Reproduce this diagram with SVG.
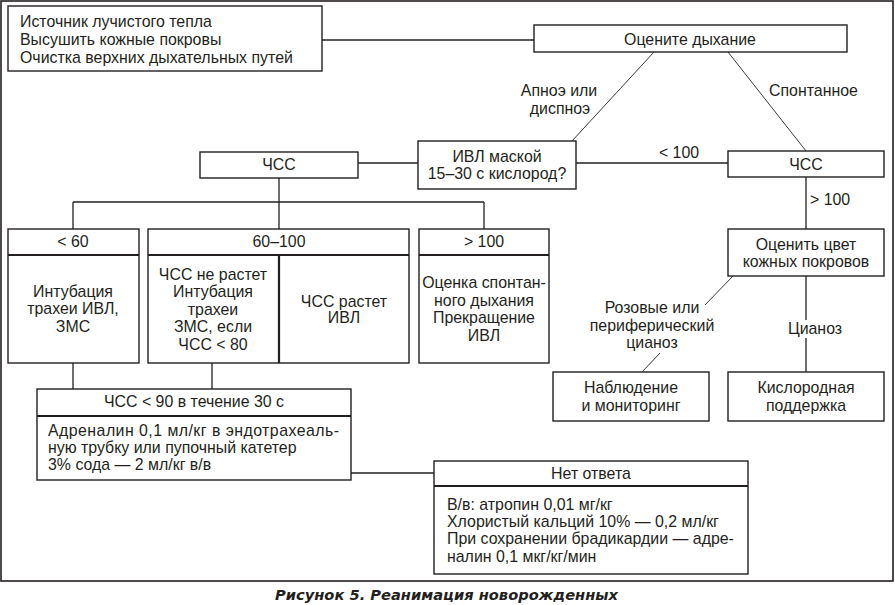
<svg xmlns="http://www.w3.org/2000/svg" width="895" height="605" viewBox="0 0 895 605">
<style>
text{font-family:"Liberation Sans",Arial,sans-serif;font-size:15.9px;fill:#231f20}
.c{text-anchor:middle}
.box{fill:#fff;stroke:#231f20;stroke-width:1.4}
.div{stroke:#231f20;stroke-width:2.2;fill:none}
.ln{stroke:#231f20;stroke-width:1.3;fill:none}
.dg{stroke:#3a3a3a;stroke-width:1;fill:none}
.cap{font-family:"DejaVu Sans","Liberation Sans",sans-serif;font-weight:bold;font-style:italic;font-size:14px}
</style>
<rect x="1" y="1" width="892" height="580" fill="#fff" stroke="#231f20" stroke-width="1.6"/>

<g id="connectors">
<line class="ln" x1="322" y1="40" x2="534" y2="40"/>
<line class="dg" x1="654" y1="52" x2="572" y2="141"/>
<line class="dg" x1="728" y1="52" x2="806" y2="151"/>
<line class="ln" x1="576" y1="163" x2="728" y2="163"/>
<line class="ln" x1="358" y1="163" x2="418" y2="163"/>
<line class="ln" x1="806" y1="177" x2="806" y2="229"/>
<line class="dg" x1="733" y1="276" x2="705" y2="305"/>
<line class="dg" x1="660" y1="353" x2="642" y2="372"/>
<line class="ln" x1="806" y1="276" x2="806" y2="320"/>
<line class="ln" x1="806" y1="338" x2="806" y2="372"/>
<line class="ln" x1="279" y1="178" x2="279" y2="229"/>
<line class="ln" x1="73" y1="202" x2="484" y2="202"/>
<line class="ln" x1="73" y1="202" x2="73" y2="229"/>
<line class="ln" x1="484" y1="202" x2="484" y2="229"/>
<line class="ln" x1="73" y1="363" x2="73" y2="389"/>
<line class="ln" x1="212" y1="363" x2="212" y2="389"/>
<line class="ln" x1="351" y1="473" x2="434" y2="473"/>
<text class="c" x="559" y="96">Апноэ или</text>
<text class="c" x="560" y="114">диспноэ</text>
<text x="769" y="96">Спонтанное</text>
<text class="c" x="679" y="158">&lt; 100</text>
<text x="810" y="205">&gt; 100</text>
<text class="c" x="652" y="313">Розовые или</text>
<text class="c" x="652" y="331">периферический</text>
<text class="c" x="652" y="348">цианоз</text>
<text class="c" x="815" y="334">Цианоз</text>
</g>

<g id="prep">
<rect class="box" x="8" y="6" width="314" height="65"/>
<text x="20" y="27">Источник лучистого тепла</text>
<text x="20" y="45">Высушить кожные покровы</text>
<text x="20" y="63">Очистка верхних дыхательных путей</text>
</g>

<g id="assess-breathing">
<rect class="box" x="534" y="25" width="313" height="27"/>
<text class="c" x="690" y="45">Оцените дыхание</text>
</g>

<g id="mask-ventilation">
<rect class="box" x="418" y="141" width="158" height="48"/>
<text class="c" x="497" y="162">ИВЛ маской</text>
<text class="c" x="497" y="179">15–30 с кислород?</text>
</g>

<g id="hr-right">
<rect class="box" x="728" y="151" width="156" height="26"/>
<text class="c" x="806" y="170">ЧСС</text>
</g>

<g id="skin-color">
<rect class="box" x="728" y="229" width="156" height="47"/>
<text class="c" x="806" y="250">Оценить цвет</text>
<text class="c" x="806" y="267">кожных покровов</text>
</g>

<g id="observation">
<rect class="box" x="553" y="372" width="156" height="49"/>
<text class="c" x="631" y="393">Наблюдение</text>
<text class="c" x="631" y="411">и мониторинг</text>
</g>

<g id="oxygen">
<rect class="box" x="728" y="372" width="156" height="49"/>
<text class="c" x="806" y="393">Кислородная</text>
<text class="c" x="806" y="411">поддержка</text>
</g>

<g id="hr-left">
<rect class="box" x="200" y="152" width="158" height="26"/>
<text class="c" x="279" y="170">ЧСС</text>
</g>

<g id="hr-lt60">
<rect class="box" x="8" y="229" width="131" height="134"/>
<line class="div" x1="8" y1="255" x2="139" y2="255"/>
<text class="c" x="73" y="247">&lt; 60</text>
<text class="c" x="73" y="297">Интубация</text>
<text class="c" x="73" y="314">трахеи ИВЛ,</text>
<text class="c" x="73" y="332">ЗМС</text>
</g>

<g id="hr-60-100">
<rect class="box" x="148" y="229" width="261" height="134"/>
<line class="div" x1="148" y1="255" x2="409" y2="255"/>
<line class="div" x1="279" y1="255" x2="279" y2="363"/>
<text class="c" x="279" y="247">60–100</text>
<text class="c" x="213" y="280">ЧСС не растет</text>
<text class="c" x="213" y="297">Интубация</text>
<text class="c" x="213" y="315">трахеи</text>
<text class="c" x="213" y="332">ЗМС, если</text>
<text class="c" x="213" y="350">ЧСС &lt; 80</text>
<text class="c" x="344" y="307">ЧСС растет</text>
<text class="c" x="344" y="323">ИВЛ</text>
</g>

<g id="hr-gt100">
<rect class="box" x="419" y="229" width="130" height="134"/>
<line class="div" x1="419" y1="255" x2="549" y2="255"/>
<text class="c" x="484" y="247">&gt; 100</text>
<text class="c" x="484" y="288">Оценка спонтан-</text>
<text class="c" x="484" y="306">ного дыхания</text>
<text class="c" x="484" y="323">Прекращение</text>
<text class="c" x="484" y="341">ИВЛ</text>
</g>

<g id="hr-lt90">
<rect class="box" x="37" y="389" width="314" height="91"/>
<line class="div" x1="37" y1="416" x2="351" y2="416"/>
<text class="c" x="194" y="407">ЧСС &lt; 90 в течение 30 с</text>
<text x="48" y="436" textLength="291" lengthAdjust="spacing">Адреналин 0,1 мл/кг в эндотрахеаль-</text>
<text x="48" y="453">ную трубку или пупочный катетер</text>
<text x="48" y="470">3% сода — 2 мл/кг в/в</text>
</g>

<g id="no-response">
<rect class="box" x="434" y="461" width="314" height="113"/>
<line class="div" x1="434" y1="486" x2="748" y2="486"/>
<text class="c" x="591" y="479">Нет ответа</text>
<text x="447" y="510">В/в: атропин 0,01 мг/кг</text>
<text x="447" y="527">Хлористый кальций 10% — 0,2 мл/кг</text>
<text x="447" y="544">При сохранении брадикардии — адре-</text>
<text x="447" y="562">налин 0,1 мкг/кг/мин</text>
</g>

<text class="cap" x="275" y="600" textLength="343" lengthAdjust="spacingAndGlyphs">Рисунок 5. Реанимация новорожденных</text>
</svg>
